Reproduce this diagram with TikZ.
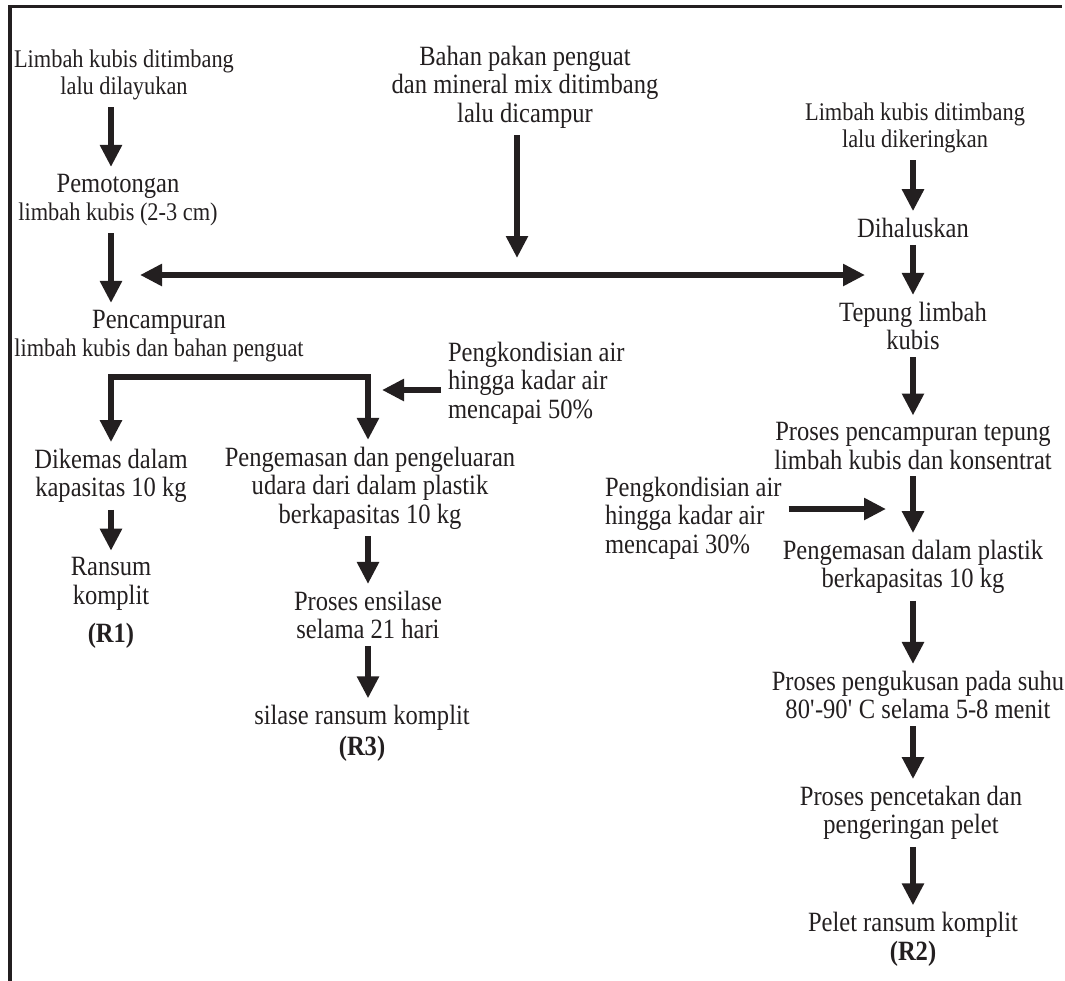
\documentclass[tikz,border=0pt]{standalone}
\usepackage{fontspec}
\setmainfont{Liberation Serif}[FakeStretch=0.88]
\usetikzlibrary{arrows.meta}
\definecolor{ink}{HTML}{231F20}
\newcommand{\smtxt}{\fontsize{25.5}{27}\selectfont}

\begin{document}
\begin{tikzpicture}[x=1bp,y=-1bp,
        txt/.style={inner sep=0pt,outer sep=7bp,align=center,text=ink,font=\fontsize{28}{28.5}\selectfont},
        sml/.style={txt,font=\smtxt},
        lft/.style={txt,align=left,anchor=west},
        arr/.style={draw=ink,line width=6bp,-{Triangle[length=22bp,width=21bp]}},
        darr/.style={arr,{Triangle[length=22bp,width=21bp]}-{Triangle[length=22bp,width=21bp]}}]
        \useasboundingbox (0,0) rectangle (1065,981);
        \draw[ink,line width=3.5bp] (10,981) -- (10,6.5) -- (1062,6.5);
        % left column
        \draw (124,75)  node[sml] (a1) {Limbah kubis ditimbang\\lalu dilayukan};
        \draw (118,200) node[txt] (a2) {Pemotongan\\{\smtxt limbah kubis (2-3 cm)}};
        \draw (159,336) node[txt] (a3) {Pencampuran\\{\smtxt limbah kubis dan bahan penguat}};
        \draw (111,476) node[txt] (a4) {Dikemas dalam\\kapasitas 10 kg};
        \draw (111,584) node[txt] (a5) {Ransum\\komplit};
        \draw (111,636) node[txt] (a6) {\textbf{(R1)}};
        % middle column
        \draw (525,87)  node[txt] (m0) {Bahan pakan penguat\\dan mineral mix ditimbang\\lalu dicampur};
        \draw (441,383) node[lft] (w50) {Pengkondisian air\\hingga kadar air\\mencapai 50\%};
        \draw (370,488) node[txt] (m1) {Pengemasan dan pengeluaran\\udara dari dalam plastik\\berkapasitas 10 kg};
        \draw (368,615) node[txt] (m2) {Proses ensilase\\selama 21 hari};
        \draw (362,718) node[txt] (m3) {silase ransum komplit};
        \draw (362,749) node[txt] (m4) {\textbf{(R3)}};
        % right column
        \draw (915,128) node[sml] (r1) {Limbah kubis ditimbang\\lalu dikeringkan};
        \draw (913,228) node[txt] (r2) {Dihaluskan};
        \draw (913,326) node[txt] (r3) {Tepung limbah\\kubis};
        \draw (913,446) node[txt] (r4) {Proses pencampuran tepung\\limbah kubis dan konsentrat};
        \draw (598,518) node[lft] (w30) {Pengkondisian air\\hingga kadar air\\mencapai 30\%};
        \draw (913,567) node[txt] (r5) {Pengemasan dalam plastik\\berkapasitas 10 kg};
        \draw (918,695) node[txt] (r6) {Proses pengukusan pada suhu\\80\textquotesingle-90\textquotesingle{} C selama 5-8 menit};
        \draw (911,813) node[txt] (r7) {Proses pencetakan dan\\pengeringan pelet};
        \draw (913,925) node[txt] (r8) {Pelet ransum komplit};
        \draw (913,954) node[txt] (r9) {\textbf{(R2)}};
        \coordinate (mj) at (517,258);
        \coordinate (hl) at (140,275);
        \coordinate (hr) at (865,275);
        \coordinate (sp) at (240,377);
        \coordinate (c50) at (382,390);
        \coordinate (c30) at (886,509);
        % connectors
        \draw[arr] (a4 |- a1.south) -- (a4 |- a2.north);
        \draw[arr] (a4 |- a2.south) -- (a4 |- a3.north);
        \draw[darr] (a4.north) |- (sp) -| (m2 |- m1.north);
        \draw[arr] (a4) -- (a5);
        \draw[arr] (m0.south -| mj) -- (mj);
        \draw[darr] (hl) -- (hr);
        \draw[arr] (w50.west |- c50) -- (c50);
        \draw[arr] (m2 |- m1.south) -- (m2);
        \draw[arr] (m2) -- (m2 |- m3.north);
        \draw[arr] (r2 |- r1.south) -- (r2);
        \draw[arr] (r2) -- (r3);
        \draw[arr] (r3) -- (r4);
        \draw[arr] (r4) -- (r5);
        \draw[arr] (w30.east |- c30) -- (c30);
        \draw[arr] (r5) -- (r5 |- r6.north);
        \draw[arr] (r5 |- r6.south) -- (r5 |- r7.north);
        \draw[arr] (r5 |- r7.south) -- (r8);
\end{tikzpicture}
\end{document}
